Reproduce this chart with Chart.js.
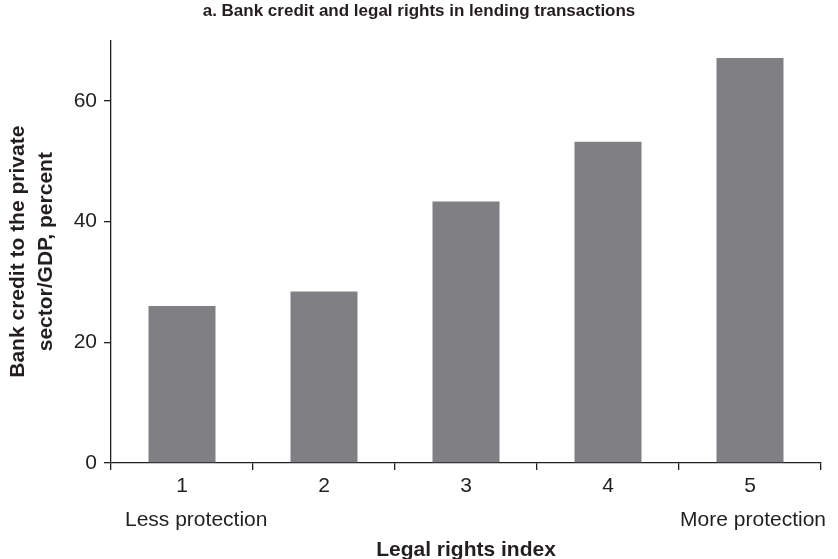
<!DOCTYPE html>
<html>
<head>
<meta charset="utf-8">
<script src="https://cdn.jsdelivr.net/npm/chart.js@4/dist/chart.umd.min.js"></script>
<style>
  html, body { margin: 0; padding: 0; background: #fff; }
  #wrap { width: 838px; height: 559px; }
</style>
</head>
<body>
<div id="wrap"><canvas id="chart"></canvas></div>
<script>
// data
const categories = ["1", "2", "3", "4", "5"];
const creditValues = [26.0, 28.4, 43.3, 53.2, 67.1];
const yTicks = [0, 20, 40, 60];
const endLabels = ["Less protection", "More protection"];

const ink = "#231f20";
const barGray = "#808084";
const fontFamily = "'Liberation Sans', Arial, Helvetica, sans-serif";

// draws the "Less/More protection" notes under the first and last category
const protectionNotes = {
  id: "protectionNotes",
  afterDraw(chart) {
    const { ctx, scales: { x }, chartArea } = chart;
    const y = chartArea.bottom + 57;
    ctx.save();
    ctx.fillStyle = ink;
    ctx.font = "21px " + fontFamily;
    ctx.textBaseline = "middle";
    ctx.textAlign = "left";
    ctx.fillText(endLabels[0], x.getPixelForValue(0) - 57, y);
    ctx.textAlign = "right";
    ctx.fillText(endLabels[1], x.getPixelForValue(categories.length - 1) + 76, y);
    ctx.restore();
  }
};

const ctx = document.getElementById("chart").getContext("2d");
new Chart(ctx, {
  type: "bar",
  data: {
    labels: categories,
    datasets: [{
      label: "Bank credit to the private sector/GDP",
      data: creditValues,
      backgroundColor: barGray,
      borderWidth: 0,
      categoryPercentage: 1,
      barPercentage: 0.472
    }]
  },
  options: {
    responsive: true,
    maintainAspectRatio: false,
    animation: false,
    // equal side padding keeps the title centred on the page
    layout: { padding: { left: 17, right: 17, top: 1, bottom: 0 } },
    plugins: {
      legend: { display: false },
      tooltip: { enabled: false },
      title: {
        display: true,
        text: "a. Bank credit and legal rights in lending transactions",
        color: ink,
        font: { family: fontFamily, size: 17, weight: "bold" },
        padding: { top: 0, bottom: 19 }
      }
    },
    scales: {
      x: {
        offset: true,
        border: { display: true, color: ink, width: 1.3 },
        grid: { display: true, drawOnChartArea: false, drawTicks: true, tickLength: 7, color: ink, lineWidth: 1.3, offset: true },
        ticks: { color: ink, font: { family: fontFamily, size: 21 }, padding: 4, maxRotation: 0 },
        title: {
          display: true,
          text: "Legal rights index",
          color: ink,
          font: { family: fontFamily, size: 21, weight: "bold", lineHeight: 1.0 },
          padding: { top: 0, bottom: -2 }
        },
        afterFit(scale) { scale.height = 96; }
      },
      y: {
        min: 0,
        max: 70,
        border: { display: true, color: ink, width: 1.3 },
        grid: { display: true, drawOnChartArea: false, drawTicks: true, tickLength: 7, color: ink, lineWidth: 1.3 },
        ticks: { stepSize: 20, color: ink, font: { family: fontFamily, size: 21 }, padding: 7 },
        afterBuildTicks(scale) {
          scale.ticks = yTicks.map(v => ({ value: v }));
        },
        title: {
          display: true,
          text: ["Bank credit to the private", "sector/GDP, percent"],
          color: ink,
          font: { family: fontFamily, size: 21, weight: "bold", lineHeight: 1.3 },
          padding: { top: -12, bottom: 0 }
        },
        afterFit(scale) { scale.width = 94; }
      }
    }
  },
  plugins: [protectionNotes]
});
</script>
</body>
</html>
